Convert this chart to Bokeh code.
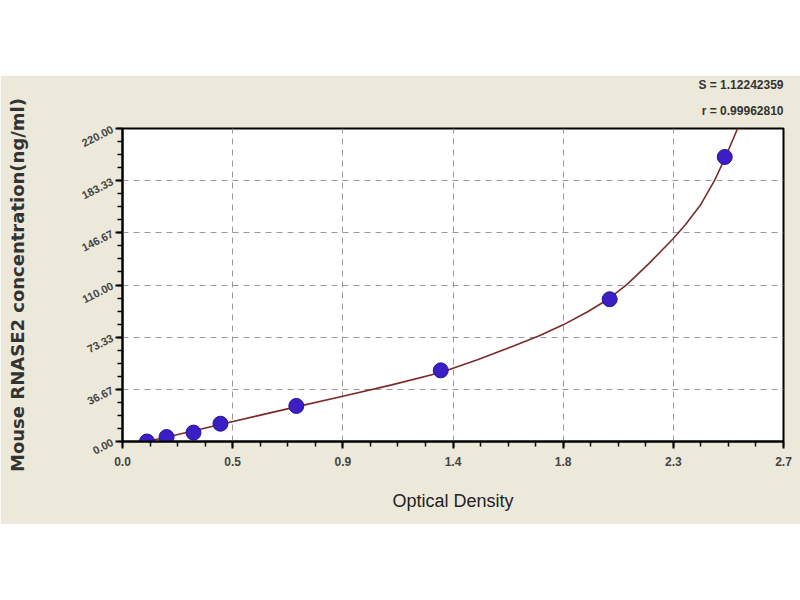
from bokeh.embed import file_html
from bokeh.layouts import column
from bokeh.models import FixedTicker, Range1d, Spacer, Title
from bokeh.plotting import figure
from bokeh.resources import INLINE

# standards (OD vs concentration)
od = [0.10, 0.18, 0.29, 0.40, 0.71, 1.30, 1.99, 2.46]
conc = [0, 3.125, 6.25, 12.5, 25, 50, 100, 200]

# fitted curve
curve_od = [0.10, 0.20, 0.30, 0.40, 0.55, 0.70, 0.90, 1.10, 1.30, 1.45,
            1.60, 1.70, 1.80, 1.90, 1.984, 2.06, 2.15, 2.25, 2.30, 2.36,
            2.418, 2.463, 2.515]
curve_conc = [0.0, 3.9, 7.9, 12.0, 18.0, 24.0, 31.8, 39.8, 48.5, 57.5,
              67.3, 74.2, 82.0, 91.2, 100.0, 110.3, 125.0, 142.7, 152.5, 166.0,
              183.3, 200.0, 221.0]

x_ticks = [0.0, 0.45, 0.9, 1.35, 1.8, 2.25, 2.7]
x_labels = ["0.0", "0.5", "0.9", "1.4", "1.8", "2.3", "2.7"]
y_ticks = [0.0, 36.67, 73.33, 110.0, 146.67, 183.33, 220.0]
y_labels = ["0.00", "36.67", "73.33", "110.00", "146.67", "183.33", "220.00"]

# top-right fit stats, outer line first
fit_text = ["S = 1.12242359", "r = 0.99962810"]

BEIGE = "#ECE9DA"
FONT = "Liberation Sans"

p = figure(width=800, height=449, output_backend="svg", toolbar_location=None,
           x_range=Range1d(0, 2.7), y_range=Range1d(0, 220),
           x_axis_label="Optical Density",
           y_axis_label="Mouse RNASE2 concentration(ng/ml)",
           min_border_left=122, min_border_right=17,
           min_border_top=53, min_border_bottom=83)

p.border_fill_color = BEIGE
p.background_fill_color = "white"
p.outline_line_color = "black"
p.outline_line_width = 2

p.xaxis.ticker = FixedTicker(ticks=x_ticks,
                             minor_ticks=[i * 0.1125 for i in range(25)])
p.xaxis.major_label_overrides = dict(zip(x_ticks, x_labels))
p.yaxis.ticker = FixedTicker(ticks=y_ticks,
                             minor_ticks=[i * 220 / 24 for i in range(25)])
p.yaxis.major_label_overrides = dict(zip(y_ticks, y_labels))
p.yaxis.major_label_orientation = 0.47

for ax in (p.xaxis, p.yaxis):
    ax.axis_line_color = "black"
    ax.axis_line_width = 2
    ax.major_tick_in = 0
    ax.major_tick_out = 7
    ax.minor_tick_in = 0
    ax.minor_tick_out = 5
    ax.major_tick_line_width = 2
    ax.minor_tick_line_width = 1.5
    ax.major_tick_line_color = "black"
    ax.minor_tick_line_color = "black"
    ax.major_label_text_font = FONT
    ax.major_label_text_font_style = "bold"
    ax.major_label_text_color = "#444444"
    ax.axis_label_text_font_style = "normal"

p.xaxis.major_label_text_font_size = "12px"
p.xaxis.major_label_standoff = 8
p.xaxis.axis_label_standoff = 22
p.xaxis.axis_label_text_font = FONT
p.xaxis.axis_label_text_font_size = "18px"
p.xaxis.axis_label_text_color = "#222222"

p.yaxis.major_label_text_font_size = "11px"
p.yaxis.major_label_standoff = 3
p.yaxis.axis_label_standoff = 48
p.yaxis.axis_label_text_font = "DejaVu Sans"
p.yaxis.axis_label_text_font_style = "bold"
p.yaxis.axis_label_text_font_size = "18px"
p.yaxis.axis_label_text_color = "#333333"

p.grid.grid_line_color = "#999999"
p.grid.grid_line_dash = "6 5"
p.grid.grid_line_width = 1

p.line(curve_od, curve_conc, line_color="#7b2b2b", line_width=1.6)
p.scatter(od, conc, marker="circle", size=15, fill_color="#3b1ec4",
          line_color="#2a1290", line_width=1)

# titles stack outward from the frame, so the inner line goes in first
for txt, gap in zip(reversed(fit_text), [21, 0]):
    p.add_layout(Title(text=txt, align="right", text_font=FONT,
                       text_font_size="12px", text_font_style="bold",
                       text_color="#333333", standoff=gap), "above")

page = column(Spacer(width=800, height=75), p)

open("out.html", "w").write(file_html(page, INLINE))
